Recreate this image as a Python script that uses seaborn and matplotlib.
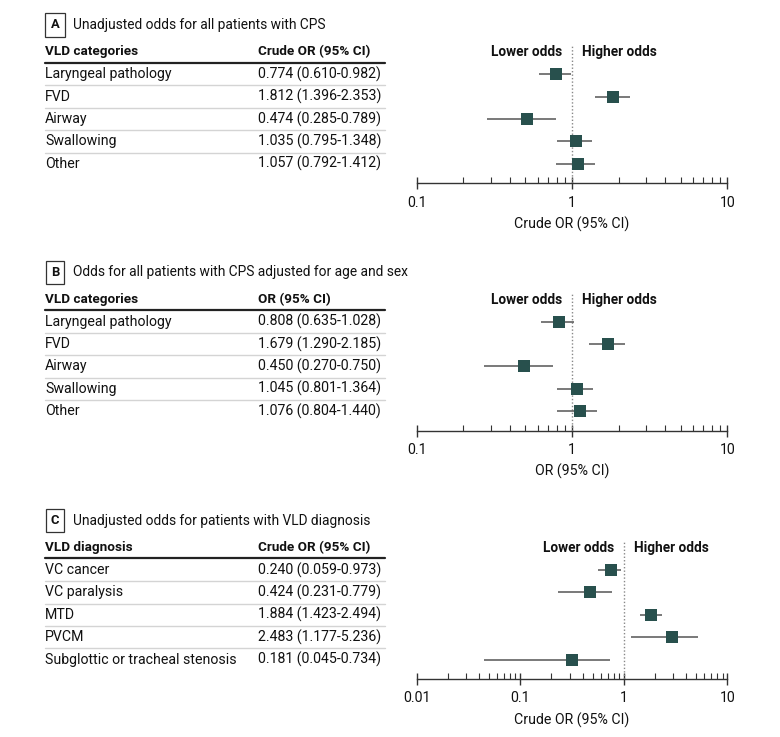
import numpy as np
import pandas as pd
import seaborn as sns
import matplotlib
matplotlib.use('Agg')
from matplotlib import pyplot as plt
from matplotlib import transforms
from matplotlib.lines import Line2D
from matplotlib.ticker import FixedLocator, NullFormatter

# panel A - unadjusted odds, all CPS patients
cats_a = ["Laryngeal pathology", "FVD", "Airway", "Swallowing", "Other"]
txt_a = ["0.774 (0.610-0.982)", "1.812 (1.396-2.353)", "0.474 (0.285-0.789)",
         "1.035 (0.795-1.348)", "1.057 (0.792-1.412)"]
or_a = [0.79, 1.85, 0.51, 1.06, 1.09]
lo_a = [0.610, 1.396, 0.285, 0.795, 0.792]
hi_a = [0.982, 2.353, 0.789, 1.348, 1.412]

# panel B - adjusted for age and sex
cats_b = ["Laryngeal pathology", "FVD", "Airway", "Swallowing", "Other"]
txt_b = ["0.808 (0.635-1.028)", "1.679 (1.290-2.185)", "0.450 (0.270-0.750)",
         "1.045 (0.801-1.364)", "1.076 (0.804-1.440)"]
or_b = [0.83, 1.71, 0.49, 1.08, 1.12]
lo_b = [0.635, 1.290, 0.270, 0.801, 0.804]
hi_b = [1.028, 2.185, 0.750, 1.364, 1.440]

# panel C - VLD diagnosis (markers as drawn in the figure)
cats_c = ["VC cancer", "VC paralysis", "MTD", "PVCM", "Subglottic or tracheal stenosis"]
txt_c = ["0.240 (0.059-0.973)", "0.424 (0.231-0.779)", "1.884 (1.423-2.494)",
         "2.483 (1.177-5.236)", "0.181 (0.045-0.734)"]
or_c = [0.76, 0.47, 1.85, 2.93, 0.315]
lo_c = [0.57, 0.231, 1.44, 1.17, 0.045]
hi_c = [0.93, 0.77, 2.33, 5.20, 0.73]

W, H = 780, 737
MARK = '#28504d'
TXT = '#111111'
FS = 10.2

sns.set_style("white")
plt.rcParams['font.family'] = ['Roboto', 'DejaVu Sans']

fig = plt.figure(figsize=(W / 100, H / 100), dpi=100)

ROW = 22.4
YLIM = (4.87, -1.28)


def make_ax(axis_y, x0=416.7, x1=727.3):
    h = (YLIM[0] - YLIM[1]) * ROW
    return fig.add_axes([x0 / W, 1 - axis_y / H, (x1 - x0) / W, h / H])


def draw_panel(ax, letter, title, col1, col2, cats, txts, ors, los, his, xlim, ticks, ticklabels, xlabel):
    df = pd.DataFrame({'cat': cats, 'or': ors, 'lo': los, 'hi': his, 'row': np.arange(len(cats))})
    ax.hlines(df['row'], df['lo'], df['hi'], color='#555555', lw=1.1, zorder=2)
    sns.scatterplot(data=df, x='or', y='row', marker='s', s=75, color=MARK,
                    edgecolor=MARK, linewidth=0, ax=ax, zorder=3, legend=False)
    ax.set_xscale('log')
    ax.set_xlim(*xlim)
    ax.set_ylim(*YLIM)
    ax.axvline(1, color='#888888', lw=1, ls=(0, (1, 1.5)), zorder=1)
    for s in ['top', 'left', 'right']:
        ax.spines[s].set_visible(False)
    ax.spines['bottom'].set_color('#333333')
    ax.spines['bottom'].set_linewidth(1)
    ax.set_yticks([])
    ax.set_ylabel('')
    ax.xaxis.set_major_locator(FixedLocator(ticks))
    ax.set_xticklabels(ticklabels)
    minors = []
    for d in ticks[:-1]:
        minors += [d * k for k in range(2, 10)]
    ax.xaxis.set_minor_locator(FixedLocator(minors))
    ax.xaxis.set_minor_formatter(NullFormatter())
    ax.tick_params(axis='x', which='major', direction='inout', length=8, width=1,
                   color='#333333', labelsize=FS, pad=5, labelcolor=TXT, bottom=True)
    ax.tick_params(axis='x', which='minor', direction='in', length=4, width=0.8,
                   color='#333333', bottom=True)
    ax.set_xlabel(xlabel, fontsize=FS, color=TXT, labelpad=5)

    ax.text(1, -0.98, 'Lower odds', ha='right', va='center', fontsize=FS - 0.4,
            fontweight='bold', color=TXT,
            transform=transforms.offset_copy(ax.transData, fig=fig, x=-9.4, y=0, units='dots'))
    ax.text(1, -0.98, 'Higher odds', ha='left', va='center', fontsize=FS - 0.4,
            fontweight='bold', color=TXT,
            transform=transforms.offset_copy(ax.transData, fig=fig, x=10, y=0, units='dots'))

    tr = transforms.blended_transform_factory(fig.transFigure, ax.transData)
    xa, xb, xc = 45 / W, 257.7 / W, 385 / W
    ax.text(55 / W, -2.2, letter, ha='center', va='center', fontsize=FS - 0.8, fontweight='bold',
            color=TXT, transform=tr,
            bbox=dict(boxstyle='square,pad=0.4', fc='white', ec='#333333', lw=0.9))
    ax.text(72.7 / W, -2.2, title, ha='left', va='center', fontsize=FS - 0.3, color=TXT, transform=tr)
    ax.text(xa, -1.0, col1, ha='left', va='center', fontsize=FS - 0.5, fontweight='bold', color=TXT, transform=tr)
    ax.text(xb, -1.0, col2, ha='left', va='center', fontsize=FS - 0.5, fontweight='bold', color=TXT, transform=tr)
    ax.add_line(Line2D([xa, xc], [-0.52, -0.52], transform=tr, color='#222222', lw=1.6, clip_on=False))
    for i, (c, t) in enumerate(zip(cats, txts)):
        ax.text(xa, i, c, ha='left', va='center', fontsize=FS, color=TXT, transform=tr)
        ax.text(xb, i, t, ha='left', va='center', fontsize=FS, color=TXT, transform=tr)
        if i < len(cats) - 1:
            ax.add_line(Line2D([xa, xc], [i + 0.5, i + 0.5], transform=tr,
                               color='#d4d4d4', lw=1, clip_on=False))


ax_a = make_ax(183.3)
draw_panel(ax_a, 'A', 'Unadjusted odds for all patients with CPS', 'VLD categories', 'Crude OR (95% CI)',
           cats_a, txt_a, or_a, lo_a, hi_a, (0.1, 10), [0.1, 1, 10], ['0.1', '1', '10'], 'Crude OR (95% CI)')

ax_b = make_ax(430.7)
draw_panel(ax_b, 'B', 'Odds for all patients with CPS adjusted for age and sex', 'VLD categories', 'OR (95% CI)',
           cats_b, txt_b, or_b, lo_b, hi_b, (0.1, 10), [0.1, 1, 10], ['0.1', '1', '10'], 'OR (95% CI)')

ax_c = make_ax(679)
draw_panel(ax_c, 'C', 'Unadjusted odds for patients with VLD diagnosis', 'VLD diagnosis', 'Crude OR (95% CI)',
           cats_c, txt_c, or_c, lo_c, hi_c, (0.01, 10), [0.01, 0.1, 1, 10], ['0.01', '0.1', '1', '10'],
           'Crude OR (95% CI)')

fig.savefig('out.png', dpi=100, facecolor='white')
